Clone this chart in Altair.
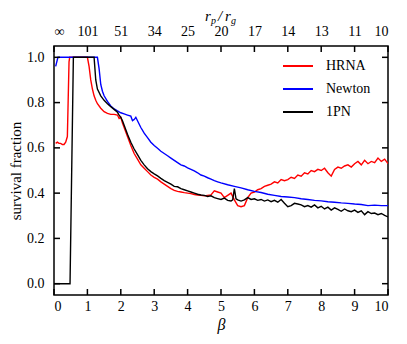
import altair as alt
import pandas as pd

# ---- data ----
hrna_beta = [0.05, 0.1, 0.15, 0.2, 0.25, 0.3, 0.35, 0.4, 0.45, 0.47, 0.6, 0.8, 1.0,
             1.05, 1.1, 1.15, 1.2, 1.25, 1.3, 1.4, 1.5, 1.6, 1.7, 1.8, 1.9, 1.95, 2.0,
             2.05, 2.1, 2.2, 2.3, 2.4, 2.5, 2.6, 2.7, 2.8, 2.9, 3.0, 3.1, 3.2, 3.3, 3.4,
             3.5, 3.6, 3.7, 3.8, 3.9, 4.0, 4.1, 4.2, 4.3, 4.4, 4.5, 4.6, 4.7, 4.8, 4.9,
             5.0, 5.1, 5.2, 5.3, 5.4, 5.5, 5.6, 5.7, 5.8, 5.9, 6.0, 6.1, 6.2, 6.3, 6.4,
             6.5, 6.6, 6.7, 6.8, 6.9, 7.0, 7.1, 7.2, 7.3, 7.4, 7.5, 7.6, 7.7, 7.8, 7.9,
             8.0, 8.1, 8.2, 8.3, 8.4, 8.5, 8.6, 8.7, 8.8, 8.9, 9.0, 9.1, 9.2, 9.3, 9.4,
             9.5, 9.6, 9.7, 9.8, 9.9, 10.0]
hrna_frac = [0.62, 0.625, 0.62, 0.62, 0.615, 0.615, 0.625, 0.65, 0.98, 1.0, 1.0, 1.0, 1.0,
             0.96, 0.9, 0.86, 0.83, 0.81, 0.795, 0.775, 0.76, 0.752, 0.748, 0.748, 0.745, 0.73, 0.735,
             0.71, 0.69, 0.65, 0.61, 0.575, 0.55, 0.525, 0.51, 0.495, 0.48, 0.47, 0.462, 0.45, 0.44, 0.43,
             0.42, 0.412, 0.408, 0.405, 0.402, 0.4, 0.398, 0.394, 0.392, 0.39, 0.388, 0.39, 0.392, 0.41, 0.405,
             0.4, 0.38, 0.39, 0.4, 0.37, 0.345, 0.34, 0.345, 0.38, 0.4, 0.405, 0.415, 0.42, 0.43, 0.435,
             0.44, 0.45, 0.445, 0.46, 0.455, 0.46, 0.47, 0.465, 0.48, 0.475, 0.49, 0.485, 0.5, 0.495, 0.505,
             0.5, 0.51, 0.49, 0.475, 0.505, 0.515, 0.51, 0.52, 0.525, 0.515, 0.53, 0.54, 0.525, 0.545, 0.53,
             0.54, 0.535, 0.555, 0.54, 0.55, 0.53]

newton_beta = [0.05, 0.1, 0.12, 0.6, 1.0, 1.3, 1.35, 1.4, 1.45, 1.5, 1.6, 1.7, 1.8, 1.9, 2.0,
               2.1, 2.2, 2.3, 2.35, 2.4, 2.45, 2.5, 2.6, 2.7, 2.8, 2.9, 3.0, 3.1, 3.2, 3.3,
               3.4, 3.5, 3.6, 3.7, 3.8, 3.9, 4.0, 4.1, 4.2, 4.3, 4.4, 4.5, 4.6, 4.7, 4.8,
               4.9, 5.0, 5.2, 5.4, 5.6, 5.8, 6.0, 6.2, 6.4, 6.6, 6.8, 7.0, 7.2, 7.4, 7.6,
               7.8, 8.0, 8.2, 8.4, 8.6, 8.8, 9.0, 9.2, 9.4, 9.6, 9.8, 10.0]
newton_frac = [0.96, 0.99, 1.0, 1.0, 1.0, 1.0, 0.95, 0.88, 0.85, 0.83, 0.805, 0.785, 0.772, 0.763, 0.755,
               0.75, 0.745, 0.74, 0.72, 0.725, 0.735, 0.72, 0.69, 0.665, 0.645, 0.625, 0.61, 0.598, 0.585, 0.575,
               0.565, 0.555, 0.545, 0.535, 0.525, 0.52, 0.512, 0.505, 0.498, 0.49, 0.48, 0.475, 0.468, 0.462, 0.455,
               0.45, 0.445, 0.437, 0.43, 0.423, 0.415, 0.408, 0.403, 0.395, 0.39, 0.385, 0.383, 0.38, 0.375, 0.372,
               0.368, 0.366, 0.362, 0.36, 0.357, 0.355, 0.352, 0.35, 0.345, 0.347, 0.345, 0.345]

pn_beta = [0.0, 0.48, 0.58, 0.8, 1.0, 1.2, 1.25, 1.3, 1.4, 1.5, 1.6, 1.7, 1.8, 1.9, 1.95, 2.0,
           2.05, 2.1, 2.2, 2.3, 2.4, 2.5, 2.6, 2.7, 2.8, 2.9, 3.0, 3.1, 3.2, 3.3, 3.4, 3.5,
           3.6, 3.7, 3.8, 3.9, 4.0, 4.1, 4.2, 4.3, 4.4, 4.5, 4.6, 4.7, 4.8, 4.9, 5.0, 5.1,
           5.2, 5.3, 5.35, 5.4, 5.45, 5.5, 5.6, 5.7, 5.8, 5.9, 6.0, 6.1, 6.2, 6.3, 6.4, 6.5,
           6.6, 6.7, 6.8, 6.9, 7.0, 7.1, 7.2, 7.3, 7.4, 7.5, 7.6, 7.7, 7.8, 7.9, 8.0, 8.1,
           8.2, 8.3, 8.4, 8.5, 8.6, 8.7, 8.8, 8.9, 9.0, 9.1, 9.2, 9.3, 9.4, 9.5, 9.6, 9.7,
           9.8, 9.9, 10.0]
pn_frac = [0.0, 0.0, 1.0, 1.0, 1.0, 1.0, 0.9, 0.86, 0.83, 0.81, 0.795, 0.782, 0.77, 0.757, 0.745, 0.735,
           0.72, 0.7, 0.66, 0.625, 0.595, 0.57, 0.545, 0.525, 0.508, 0.495, 0.485, 0.476, 0.465, 0.455, 0.448, 0.44,
           0.43, 0.428, 0.42, 0.415, 0.41, 0.405, 0.4, 0.395, 0.392, 0.39, 0.385, 0.388, 0.38, 0.376, 0.372, 0.378,
           0.368, 0.365, 0.37, 0.42, 0.375, 0.37, 0.365, 0.37, 0.38, 0.372, 0.375, 0.368, 0.372, 0.365, 0.37, 0.362,
           0.368, 0.36, 0.372, 0.355, 0.34, 0.345, 0.355, 0.352, 0.348, 0.34, 0.345, 0.338, 0.348, 0.335, 0.342, 0.33,
           0.338, 0.325, 0.335, 0.328, 0.32, 0.33, 0.322, 0.318, 0.325, 0.315, 0.322, 0.305, 0.318, 0.31, 0.312, 0.305,
           0.31, 0.302, 0.295]

series_names = ["HRNA", "Newton", "1PN"]
series_colors = ["#ff0000", "#0000ff", "#000000"]

x_ticks = [0, 1, 2, 3, 4, 5, 6, 7, 8, 9, 10]
top_labels = ["∞", "101", "51", "34", "25", "20", "17", "14", "13", "11", "10"]
y_ticks = [0.0, 0.2, 0.4, 0.6, 0.8, 1.0]

# ---- build tables ----
rows = []
for name, bs, fs in [("HRNA", hrna_beta, hrna_frac), ("Newton", newton_beta, newton_frac),
                     ("1PN", pn_beta, pn_frac)]:
    for i, (b, f) in enumerate(zip(bs, fs)):
        rows.append({"beta": b, "frac": f, "model": name, "order": i})
df = pd.DataFrame(rows)
xt = pd.DataFrame({"beta": x_ticks})
yt = pd.DataFrame({"frac": y_ticks})

W, H = 334, 249
FONT = "Liberation Serif"
TL = 6
xs = alt.Scale(domain=[0, 10], nice=False, zero=False)
ys = alt.Scale(domain=[-0.05, 1.05], nice=False, zero=False)

label_expr = "[" + ",".join("'%s'" % s for s in top_labels) + "][round(datum.value)]"

lines = alt.Chart(df).mark_line(strokeWidth=1.4, clip=True).encode(
    x=alt.X("beta:Q", scale=xs,
            axis=alt.Axis(orient="bottom", values=x_ticks, title="β", format="d",
                          titleFontStyle="italic", titleFontWeight="normal", titleFontSize=16,
                          titlePadding=3, labelPadding=4)),
    y=alt.Y("frac:Q", scale=ys,
            axis=alt.Axis(orient="left", values=y_ticks, format=".1f", title="survival fraction",
                          titleFontWeight="normal", titleFontSize=15, titlePadding=3,
                          labelPadding=10)),
    color=alt.Color("model:N", scale=alt.Scale(domain=series_names, range=series_colors),
                    legend=alt.Legend(title=None, orient="none", legendX=228, legendY=4,
                                      symbolType="stroke", symbolSize=900, symbolStrokeWidth=2,
                                      labelFontSize=14, labelFont=FONT, labelOffset=12,
                                      rowPadding=0, padding=0, labelColor="black")),
    order="order:Q",
)

top = alt.Chart(xt).mark_rule(color="black", strokeWidth=1.5).encode(
    x=alt.X("beta:Q", scale=xs,
            axis=alt.Axis(orient="top", values=x_ticks, labelExpr=label_expr, title=None,
                          labelPadding=8)),
    y=alt.value(0), y2=alt.value(TL),
)
bottom = alt.Chart(xt).mark_rule(color="black", strokeWidth=1.5).encode(
    x=alt.X("beta:Q", scale=xs, axis=None),
    y=alt.value(H), y2=alt.value(H - TL),
)
left = alt.Chart(yt).mark_rule(color="black", strokeWidth=1.5).encode(
    y=alt.Y("frac:Q", scale=ys, axis=None),
    x=alt.value(0), x2=alt.value(TL),
)
right = alt.Chart(yt).mark_rule(color="black", strokeWidth=1.5).encode(
    y=alt.Y("frac:Q", scale=ys, axis=None),
    x=alt.value(W), x2=alt.value(W - TL),
)

# top title r_p / r_g built from text pieces
title_parts = pd.DataFrame({
    "t": ["r", "p", "/", "r", "g"],
    "px": [151, 157, 164, 171, 177],
    "py": [-25, -22, -25, -25, -22],
    "fs": [15, 10, 15, 15, 10],
})
ttl = alt.Chart(title_parts).mark_text(font=FONT, fontStyle="italic", align="left",
                                       baseline="alphabetic", color="black").encode(
    text="t:N", x=alt.X("px:Q", scale=None), y=alt.Y("py:Q", scale=None),
    size=alt.Size("fs:Q", scale=None, legend=None),
)

chart = alt.layer(lines, top, bottom, left, right, ttl).resolve_axis(
    x="independent", y="independent"
).properties(
    width=W, height=H,
    background="white",
    autosize=alt.AutoSizeParams(type="none"),
    padding={"left": 46, "top": 38, "right": 11, "bottom": 41},
).configure_view(stroke="black", strokeWidth=1.5).configure_axis(
    domain=False, ticks=False, grid=False, labelFont=FONT, titleFont=FONT,
    labelFontSize=14, labelColor="black", titleColor="black",
)

chart.save("out.html", embed_options={"renderer": "svg", "actions": False})
